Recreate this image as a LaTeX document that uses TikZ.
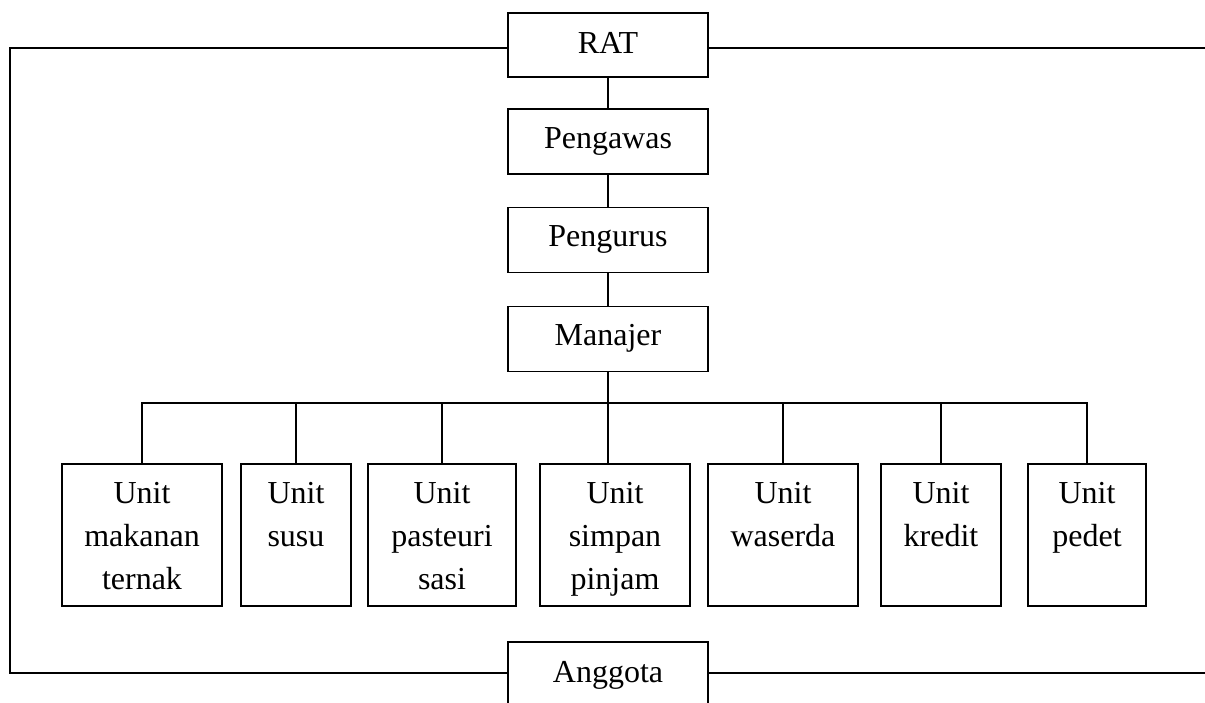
\documentclass[tikz,border=0pt]{standalone}
\usepackage{fontspec}
\setmainfont{Liberation Serif}
\newcommand{\unitlabel}[2]{\parbox[t]{#1}{\centering #2}}
\begin{document}
\begin{tikzpicture}[x=1pt,y=-1pt,
  topbox/.style={draw,line width=1.7pt,inner sep=0pt,minimum width=200pt,
    text height=39pt,text depth=26pt,font=\fontsize{32}{43}\selectfont},
  unitbox/.style={draw,line width=1.7pt,inner sep=0pt,
    text height=39pt,text depth=103pt,font=\fontsize{32}{43}\selectfont},
  link/.style={line width=1.7pt}]
\useasboundingbox (0,0) rectangle (1205,702);
\begin{scope}
\clip (0,0) rectangle (1205,702);
\node[topbox,text height=40pt,text depth=24pt] (rat) at (608,45) {RAT};
\node[topbox] (pengawas) at (608,141.5) {Pengawas};
\node[topbox] (pengurus) at (608,240) {Pengurus};
\node[topbox] (manajer) at (608,339) {Manajer};
\node[topbox,text height=40pt,text depth=24pt] (anggota) at (608,674) {Anggota};

\node[unitbox,minimum width=160pt] (u1) at (142,535) {\unitlabel{150pt}{Unit\\makanan\\ternak}};
\node[unitbox,minimum width=110pt] (u2) at (296,535) {\unitlabel{100pt}{Unit\\susu}};
\node[unitbox,minimum width=148pt] (u3) at (442,535) {\unitlabel{138pt}{Unit\\pasteuri\\sasi}};
\node[unitbox,minimum width=150pt] (u4) at (615,535) {\unitlabel{140pt}{Unit\\simpan\\pinjam}};
\node[unitbox,minimum width=150pt] (u5) at (783,535) {\unitlabel{140pt}{Unit\\waserda}};
\node[unitbox,minimum width=120pt] (u6) at (941,535) {\unitlabel{110pt}{Unit\\kredit}};
\node[unitbox,minimum width=118pt] (u7) at (1087,535) {\unitlabel{108pt}{Unit\\pedet}};

\coordinate (tl) at (10,48);
\coordinate (bl) at (10,673);
\coordinate (tr) at (1206,48);
\coordinate (br) at (1206,673);
\coordinate (busy) at (0,403);

\draw[link] (rat) -- (pengawas);
\draw[link] (pengawas) -- (pengurus);
\draw[link] (pengurus) -- (manajer);
\draw[link] (manajer.south) -- (manajer.south |- u4.north);
\draw[link] (u1.north) |- (busy -| u7.north) -- (u7.north);
\foreach \u in {u2,u3,u5,u6}{
  \draw[link] (\u.north) -- (\u.north |- busy);
}
\draw[link] (rat.west |- tl) -- (tl) -- (bl) -- (anggota.west |- bl);
\draw[link] (rat.east |- tr) -- (tr);
\draw[link] (anggota.east |- br) -- (br);
\end{scope}
\end{tikzpicture}
\end{document}
